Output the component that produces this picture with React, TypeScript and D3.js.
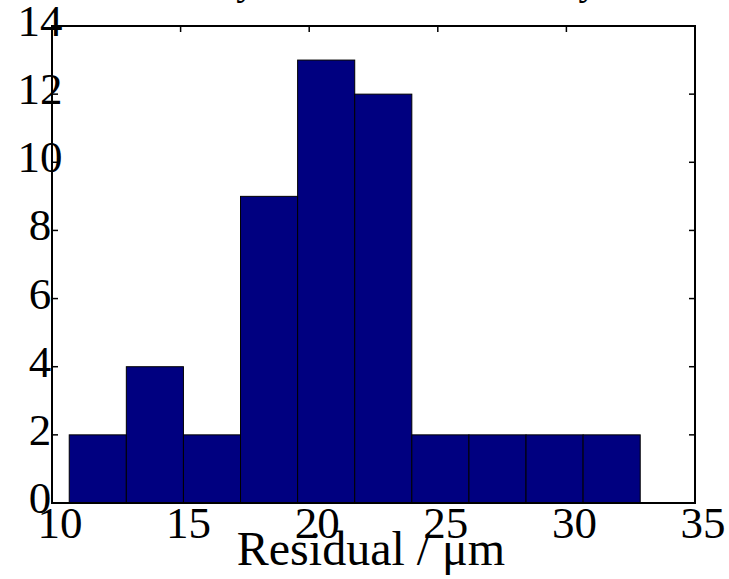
import React, { useRef, useEffect } from "react";
import * as d3 from "d3";

// histogram of residuals
const binEdges = [10.67, 12.89, 15.11, 17.33, 19.55, 21.77, 23.99, 26.21, 28.43, 30.65, 32.87];
const counts = [2, 4, 2, 9, 13, 12, 2, 2, 2, 2];
const xTicks = [10, 15, 20, 25, 30, 35];
const yTicks = [0, 2, 4, 6, 8, 10, 12, 14];

const W = 729;
const H = 579;
const margin = { left: 52, right: 34, top: 26, bottom: 76 };

export default function App() {
  const ref = useRef<SVGSVGElement>(null);

  useEffect(() => {
    const svg = d3.select(ref.current);
    svg.selectAll("*").remove();

    const x = d3.scaleLinear().domain([10, 35]).range([margin.left, W - margin.right]);
    const y = d3.scaleLinear().domain([0, 14]).range([H - margin.bottom, margin.top]);
    const font = "'Liberation Serif', 'Times New Roman', serif";

    // title, mostly above the visible area
    svg
      .append("text")
      .attr("x", (x(10) + x(35)) / 2)
      .attr("y", -5.7)
      .attr("text-anchor", "middle")
      .attr("font-family", font)
      .attr("font-size", 40)
      .text("Accuracy of the total assembly fit");

    // ticks pointing inward
    const tick = 6;
    const g = svg.append("g").attr("stroke", "#000").attr("stroke-width", 1.5);
    xTicks.forEach(t => {
      g.append("line").attr("x1", x(t)).attr("x2", x(t)).attr("y1", y(14)).attr("y2", y(14) + tick);
      g.append("line").attr("x1", x(t)).attr("x2", x(t)).attr("y1", y(0)).attr("y2", y(0) - tick);
    });
    yTicks.forEach(t => {
      g.append("line").attr("x1", x(10)).attr("x2", x(10) + tick).attr("y1", y(t)).attr("y2", y(t));
      g.append("line").attr("x1", x(35)).attr("x2", x(35) - tick).attr("y1", y(t)).attr("y2", y(t));
    });

    // bars
    svg
      .append("g")
      .selectAll("rect")
      .data(counts)
      .join("rect")
      .attr("x", (d, i) => x(binEdges[i]))
      .attr("y", d => y(d))
      .attr("width", (d, i) => x(binEdges[i + 1]) - x(binEdges[i]))
      .attr("height", d => y(0) - y(d))
      .attr("fill", "#000080")
      .attr("stroke", "#000")
      .attr("stroke-width", 1);

    // frame
    svg
      .append("rect")
      .attr("x", x(10))
      .attr("y", y(14))
      .attr("width", x(35) - x(10))
      .attr("height", y(0) - y(14))
      .attr("fill", "none")
      .attr("stroke", "#000")
      .attr("stroke-width", 2);

    // tick labels
    svg
      .append("g")
      .selectAll("text")
      .data(xTicks)
      .join("text")
      .attr("x", d => x(d) + 8)
      .attr("y", y(0) + 35)
      .attr("text-anchor", "middle")
      .attr("font-family", font)
      .attr("font-size", 45)
      .text(d => d);

    svg
      .append("g")
      .selectAll("text")
      .data(yTicks)
      .join("text")
      .attr("x", 40)
      .attr("y", d => y(d) + 10)
      .attr("text-anchor", "middle")
      .attr("font-family", font)
      .attr("font-size", 45)
      .text(d => d);

    svg
      .append("text")
      .attr("x", 371)
      .attr("y", 565)
      .attr("text-anchor", "middle")
      .attr("font-family", font)
      .attr("font-size", 48)
      .text("Residual / \u03bcm");
  }, []);

  return (
    <svg
      ref={ref}
      width={W}
      height={H}
      style={{ position: "absolute", left: 0, top: 0, background: "#fff" }}
    />
  );
}
